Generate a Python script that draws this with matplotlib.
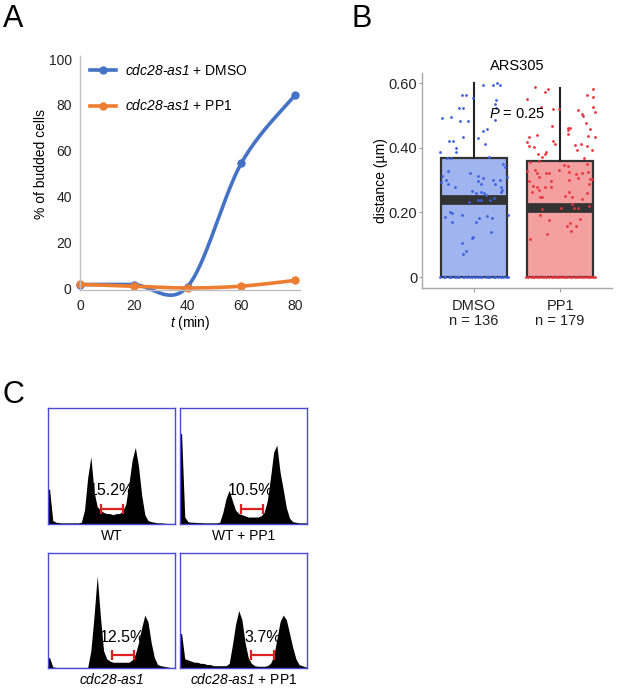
import numpy as np
import matplotlib
matplotlib.use('Agg')
import matplotlib.pyplot as plt
from matplotlib.lines import Line2D

plt.rcParams['font.family'] = ['Liberation Sans', 'DejaVu Sans']
plt.rcParams['mathtext.fontset'] = 'custom'
# every math snippet in this figure is a gene name or variable: keep digits italic too
plt.rcParams['mathtext.rm'] = 'Liberation Sans:italic'
plt.rcParams['mathtext.it'] = 'Liberation Sans:italic'

W, H = 617, 690

# ---- panel A: budding time course ----
time_min = [0, 20, 40, 60, 80]
budded_dmso = [1.5, 1.5, 0.6, 54.5, 84.2]
budded_pp1 = [1.6, 0.8, 0.0, 0.8, 3.3]
a_yticks = [0, 20, 40, 60, 80, 100]
a_xticks = [0, 20, 40, 60, 80]

# ---- panel B: ARS305 distance box plot ----
b_groups = ['DMSO', 'PP1']
b_counts = [136, 179]
b_med = [0.238, 0.213]
b_q1 = [0.0, 0.0]
b_q3 = [0.367, 0.359]
b_whishi = [0.599, 0.586]
b_yticks = [0, 0.20, 0.40, 0.60]
b_yticklabels = ['0', '0.20', '0.40', '0.60']

dmso_dx = [0.112, 0.217, 0.267, 0.302, -0.132, -0.085, -0.008, 0.260, 0.240, -0.171,
           -0.124, 0.256, -0.372, -0.264, -0.163, -0.066, 0.244, 0.101, 0.151, -0.124,
           0.050, -0.287, -0.240, 0.128, -0.202, -0.388, -0.209, 0.178, -0.314, -0.267,
           0.333, 0.360, -0.302, -0.047, -0.364, 0.054, 0.388, 0.109, -0.326, 0.054,
           0.225, 0.302, -0.295, 0.078, 0.248, -0.217, 0.310, -0.376, 0.326, -0.016,
           0.023, 0.078, 0.116, 0.318, 0.140,
           -0.054, 0.047, 0.078, 0.186, 0.236,
           -0.279, -0.248, -0.337, -0.132, 0.147, 0.209, 0.062, 0.399, -0.256, 0.023,
           0.202, -0.008, -0.023, -0.132, -0.093, -0.124]
dmso_y = [0.594, 0.594, 0.600, 0.594, 0.563, 0.563, 0.555, 0.547, 0.534, 0.522,
          0.522, 0.522, 0.493, 0.496, 0.481, 0.484, 0.486, 0.452, 0.457, 0.434,
          0.429, 0.421, 0.421, 0.411, 0.400, 0.388, 0.388, 0.372, 0.367, 0.367,
          0.349, 0.341, 0.329, 0.323, 0.312, 0.312, 0.310, 0.305, 0.300, 0.297,
          0.300, 0.299, 0.288, 0.288, 0.289, 0.277, 0.277, 0.293, 0.269, 0.266,
          0.259, 0.262, 0.259, 0.262, 0.254,
          0.231, 0.237, 0.237, 0.237, 0.245,
          0.200, 0.197, 0.187, 0.192, 0.189, 0.184, 0.182, 0.192, 0.171, 0.169,
          0.140, 0.123, 0.120, 0.104, 0.080, 0.071]
dmso_zero_dx = [-0.39, -0.35, -0.33, -0.29, -0.26, -0.22, -0.20, -0.17, -0.13, -0.11,
                -0.08, -0.04, -0.02, 0.01, 0.05, 0.07, 0.10, 0.14, 0.16, 0.19,
                0.23, 0.25, 0.28, 0.31, 0.34, 0.37, 0.39]

pp1_dx = [-0.287, -0.178, -0.140, 0.380, 0.314, 0.380, -0.384, -0.221, -0.081, -0.008,
          0.209, 0.248, 0.267, 0.380, 0.403, -0.093, 0.093, 0.112, 0.085, 0.093,
          0.341, 0.322, 0.403, 0.295, -0.357, -0.271, -0.388, -0.364, -0.302, -0.078,
          -0.062, 0.171, 0.236, 0.198, 0.314, 0.364, -0.256, -0.209, -0.178, -0.163,
          0.279,
          -0.345, -0.248, 0.047, 0.085, 0.314, -0.384, -0.295, -0.271, -0.163, -0.124,
          -0.016, 0.101, 0.178, 0.252, 0.326, 0.341, -0.248, -0.101, 0.101, 0.209,
          0.364, -0.357, -0.318, -0.267, -0.171, -0.109, -0.326, -0.240, -0.229, -0.209,
          0.054, 0.101, 0.306, 0.333, 0.140, 0.248,
          0.132, -0.209, 0.004, 0.159, 0.209, 0.333,
          -0.233, -0.132, 0.081, 0.116, 0.186, 0.229, 0.128, -0.147, -0.353]
pp1_y = [0.587, 0.573, 0.580, 0.582, 0.563, 0.558, 0.551, 0.525, 0.519, 0.519,
         0.517, 0.504, 0.499, 0.525, 0.509, 0.468, 0.460, 0.462, 0.455, 0.441,
         0.458, 0.436, 0.434, 0.475, 0.432, 0.439, 0.419, 0.406, 0.403, 0.422,
         0.411, 0.408, 0.410, 0.393, 0.406, 0.393, 0.380, 0.372, 0.382, 0.386,
         0.369,
         0.355, 0.359, 0.346, 0.344, 0.348, 0.329, 0.331, 0.321, 0.321, 0.321,
         0.331, 0.326, 0.319, 0.323, 0.324, 0.302, 0.308, 0.297, 0.300, 0.307,
         0.302, 0.297, 0.282, 0.277, 0.277, 0.277, 0.264, 0.269, 0.249, 0.246,
         0.252, 0.262, 0.259, 0.287, 0.249, 0.241,
         0.225, 0.210, 0.212, 0.212, 0.212, 0.220,
         0.192, 0.176, 0.159, 0.166, 0.158, 0.179, 0.142, 0.132, 0.117]
pp1_zero_dx = [-0.40, -0.37, -0.34, -0.32, -0.30, -0.27, -0.24, -0.21, -0.19, -0.16,
               -0.13, -0.10, -0.08, -0.05, -0.02, 0.00, 0.03, 0.06, 0.08, 0.11,
               0.14, 0.17, 0.20, 0.22, 0.25, 0.28, 0.31, 0.33, 0.36, 0.38, 0.40]

# ---- panel C: DNA content histograms (40 channels, % of frame height) ----
hist_wt = [30, 3, 1.5, 1.2, 1, 1, 1, 1, 1, 1, 1.5,
           12, 40, 58, 28, 15, 12,
           10, 9, 9, 8, 9, 9,
           11, 17, 35, 55, 66, 50, 25, 8,
           3, 2, 1.5, 1, 1, 0.8, 0.5, 0.5, 0.5]
hist_wt_pp1 = [78, 6, 2, 1.5, 1.5, 1.2, 1.2, 1, 1, 1, 1, 1, 1.5,
               10, 22, 29, 20, 12,
               9, 8, 7, 6, 6, 6, 6, 7, 10,
               20, 40, 62, 68, 45, 30, 14, 5, 2, 1.5, 1, 1, 1]
hist_cdc = [9, 1, 0.5, 0.5, 0.5, 0.5, 0.5, 0.5, 0.5, 0.5, 0.5, 0.5, 0.5,
            15, 45, 80, 45, 15,
            8, 6, 5, 5, 5, 5, 5, 5, 7, 12,
            22, 35, 46, 40, 22, 9, 3, 2, 1.5, 1, 0.5, 0.5]
hist_cdc_pp1 = [30, 8, 7, 6, 5, 5, 4, 4, 3, 3, 2, 2, 2, 2, 2, 4,
                20, 38, 50, 42, 22, 9,
                4, 2, 1.5, 1.5, 1.5, 2, 4,
                10, 25, 40, 46, 42, 30, 18, 8, 3, 2, 1]
hist_labels = ['WT', 'WT + PP1', r'$cdc28$-$as1$', r'$cdc28$-$as1$ + PP1']
gate_pct = ['15.2%', '10.5%', '12.5%', '3.7%']
gate_lo = [16.7, 19.2, 20.0, 22.4]
gate_hi = [23.6, 26.2, 27.0, 29.6]
gate_y = [13, 13, 11.5, 11.5]
pct_x = [20.1, 22.2, 23.3, 26.2]
pct_y = [28.5, 28.5, 26.5, 26.5]


def smooth_curve(x, y, n=40):
    # Excel-style smoothed line: Bezier segments with Catmull-Rom tangents
    pts = np.column_stack([x, y]).astype(float)
    out = []
    for i in range(len(pts) - 1):
        p0 = pts[i - 1] if i > 0 else pts[i]
        p1, p2 = pts[i], pts[i + 1]
        p3 = pts[i + 2] if i + 2 < len(pts) else pts[i + 1]
        c1 = p1 + (p2 - p0) / 6
        c2 = p2 - (p3 - p1) / 6
        s = np.linspace(0, 1, n)[:, None]
        seg = (1 - s) ** 3 * p1 + 3 * (1 - s) ** 2 * s * c1 + 3 * (1 - s) * s ** 2 * c2 + s ** 3 * p2
        out.append(seg if i == 0 else seg[1:])
    return np.vstack(out)


def px_axes(fig, x0, y0, x1, y1):
    return fig.add_axes([x0 / W, 1 - y1 / H, (x1 - x0) / W, (y1 - y0) / H])


fig = plt.figure(figsize=(W / 100, H / 100), dpi=100)

# ===== A =====
blue, orange = '#4472C4', '#ED7D31'
axA = px_axes(fig, 80, 55.6, 300.4, 290.3)
for vals, col in [(budded_dmso, blue), (budded_pp1, orange)]:
    curve = smooth_curve(time_min, vals)
    axA.plot(curve[:, 0], curve[:, 1], color=col, lw=2.6, solid_capstyle='round', clip_on=False)
    axA.plot(time_min, vals, 'o', color=col, ms=5, clip_on=False)
axA.set_xlim(0, 82)
axA.set_ylim(-1, 101.5)
axA.set_xticks(a_xticks)
axA.set_yticks(a_yticks)
axA.tick_params(length=0, labelsize=10, pad=6, colors='#222222')
for side in ['top', 'right']:
    axA.spines[side].set_visible(False)
for side in ['left', 'bottom']:
    axA.spines[side].set_color('#c0c0c0')
    axA.spines[side].set_linewidth(1.0)
axA.set_ylabel('% of budded cells', fontsize=10)
axA.yaxis.set_label_coords(-0.145, 0.54)
axA.set_xlabel(r'$t$ (min)', fontsize=10, labelpad=1)
handles = [Line2D([], [], color=blue, lw=2.6, marker='o', ms=5),
           Line2D([], [], color=orange, lw=2.6, marker='o', ms=5)]
axA.legend(handles, [r'$cdc28$-$as1$ + DMSO', r'$cdc28$-$as1$ + PP1'],
           loc='upper left', bbox_to_anchor=(0.045, 0.97), frameon=False, fontsize=10,
           handlelength=1.9, handletextpad=0.65, labelspacing=1.5, borderpad=0, borderaxespad=0,
           numpoints=1)

# ===== B =====
axB = px_axes(fig, 422, 73, 612, 288)
pos = [1, 2]
stats = []
for i in range(2):
    stats.append(dict(med=b_med[i], q1=b_q1[i], q3=b_q3[i], whislo=b_q1[i],
                      whishi=b_whishi[i], fliers=[]))
bp = axB.bxp(stats, positions=pos, widths=0.76, patch_artist=True, showcaps=False,
             showfliers=False,
             boxprops=dict(edgecolor='#333333', linewidth=1.6),
             medianprops=dict(color='#333333', linewidth=7, solid_capstyle='butt'),
             whiskerprops=dict(color='#222222', linewidth=1.5))
for patch, fc in zip(bp['boxes'], ['#a0b4f0', '#f5a0a0']):
    patch.set_facecolor(fc)
axB.scatter(np.array(dmso_dx) + 1, dmso_y, s=4, color='#3a5fe0', lw=0, zorder=4)
axB.scatter(np.array(dmso_zero_dx) + 1, np.zeros(len(dmso_zero_dx)), s=4, color='#3a5fe0', lw=0, zorder=4)
axB.scatter(np.array(pp1_dx) + 2, pp1_y, s=4, color='#e8333a', lw=0, zorder=4)
axB.scatter(np.array(pp1_zero_dx) + 2, np.zeros(len(pp1_zero_dx)), s=4, color='#e8333a', lw=0, zorder=4)
axB.set_xlim(0.4, 2.6)
axB.set_ylim(-0.034, 0.631)
axB.set_yticks(b_yticks)
axB.set_yticklabels(b_yticklabels)
axB.set_xticks(pos)
axB.set_xticklabels([f'{g}\nn = {n}' for g, n in zip(b_groups, b_counts)], linespacing=1.1)
axB.tick_params(axis='y', length=2, pad=1.5, labelsize=10.5, colors='#222222')
axB.tick_params(axis='x', length=3, pad=5, labelsize=10.5, colors='#222222')
axB.tick_params(color='#a0a0a0')
for side in ['top', 'right']:
    axB.spines[side].set_visible(False)
for side in ['left', 'bottom']:
    axB.spines[side].set_color('#a8a8a8')
    axB.spines[side].set_linewidth(1.0)
axB.set_ylabel('distance (µm)', fontsize=10)
axB.yaxis.set_label_coords(-0.18, 0.5)
axB.set_title('ARS305', fontsize=10.5, pad=2)
axB.text(1.5, 0.504, r'$P$ = 0.25', ha='center', va='center', fontsize=10.5, zorder=5)

# ===== C =====
frames = [(48, 408, 175, 524), (180, 408, 307, 524), (48, 553, 175, 668), (180, 553, 307, 668)]
hists = [hist_wt, hist_wt_pp1, hist_cdc, hist_cdc_pp1]
for k, (x0, y0, x1, y1) in enumerate(frames):
    ax = px_axes(fig, x0, y0, x1, y1)
    h = np.asarray(hists[k], dtype=float)
    n = len(h)
    xc = np.r_[0, np.arange(n) + 0.5, n]
    ax.fill_between(xc, np.r_[h[0], h, h[-1]], 0, color='black', linewidth=0)
    ax.errorbar((gate_lo[k] + gate_hi[k]) / 2, gate_y[k], xerr=(gate_hi[k] - gate_lo[k]) / 2,
                color='#e02020', lw=1.6, capsize=3.5, capthick=1.6, zorder=4)
    ax.text(pct_x[k], pct_y[k], gate_pct[k], ha='center', va='center', fontsize=11.5, zorder=5)
    ax.set_xlim(0, n)
    ax.set_ylim(0, 100)
    ax.set_xticks([])
    ax.set_yticks([])
    for sp in ax.spines.values():
        sp.set_color('#4a4ad8')
        sp.set_linewidth(1.0)
    fig.text((x0 + x1) / 2 / W, 1 - (y1 + 12) / H, hist_labels[k], ha='center', va='center', fontsize=10)

# panel letters
fig.text(3 / W, 1 - 27 / H, 'A', fontsize=22, va='baseline')
fig.text(352 / W, 1 - 27 / H, 'B', fontsize=22, va='baseline')
fig.text(3 / W, 1 - 403 / H, 'C', fontsize=22, va='baseline')

fig.savefig('out.png', dpi=100)
